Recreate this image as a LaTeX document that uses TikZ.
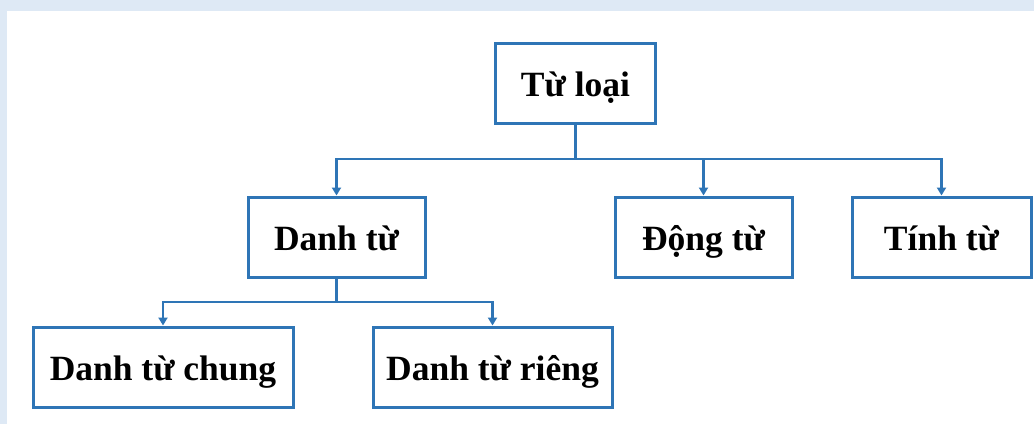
\documentclass[tikz,border=0pt]{standalone}
\usepackage{fontspec}
\setmainfont{Liberation Serif}
\usetikzlibrary{arrows.meta}
\definecolor{frameblue}{RGB}{222,233,245}
\definecolor{boxblue}{RGB}{46,117,182}
\tikzset{
  box/.style={draw=boxblue, line width=3pt, fill=white, inner sep=0pt,
    minimum height=80pt, text height=26pt, text depth=0pt,
    font=\fontsize{35.5}{42}\selectfont\bfseries, text=black},
  conn/.style={draw=boxblue, line width=2.5pt, -{Triangle[width=9pt,length=8pt]}},
}
\begin{document}
\begin{tikzpicture}[x=1pt,y=-1pt]
\useasboundingbox (0,0) rectangle (1034,424);
\fill[frameblue] (0,0) rectangle (1034,424);
\fill[white] (7,11) rectangle (1034,424);

\node[box, minimum width=160pt] (tl) at (575.5,83) {Từ loại};
\node[box, minimum width=177pt] (dt) at (336.5,237) {Danh từ};
\node[box, minimum width=177pt] (dgt) at (703.5,237) {Động từ};
\node[box, minimum width=179pt] (tt) at (941.5,237) {Tính từ};
\node[box, minimum width=260pt] (dtc) at (163,367) {Danh từ chung};
\node[box, minimum width=239pt] (dtr) at (492.5,367) {Danh từ riêng};

\coordinate (b1) at (575.5,159);
\coordinate (b2) at (336.5,302);

\draw[draw=boxblue, line width=2.5pt] (tl.south) -- (b1);
\draw[conn] (b1) -| (dt.north);
\draw[conn] (b1) -| (dgt.north);
\draw[conn] (b1) -| (tt.north);

\draw[draw=boxblue, line width=2.5pt] (dt.south) -- (b2);
\draw[conn] (b2) -| (dtc.north);
\draw[conn] (b2) -| (dtr.north);
\end{tikzpicture}
\end{document}
